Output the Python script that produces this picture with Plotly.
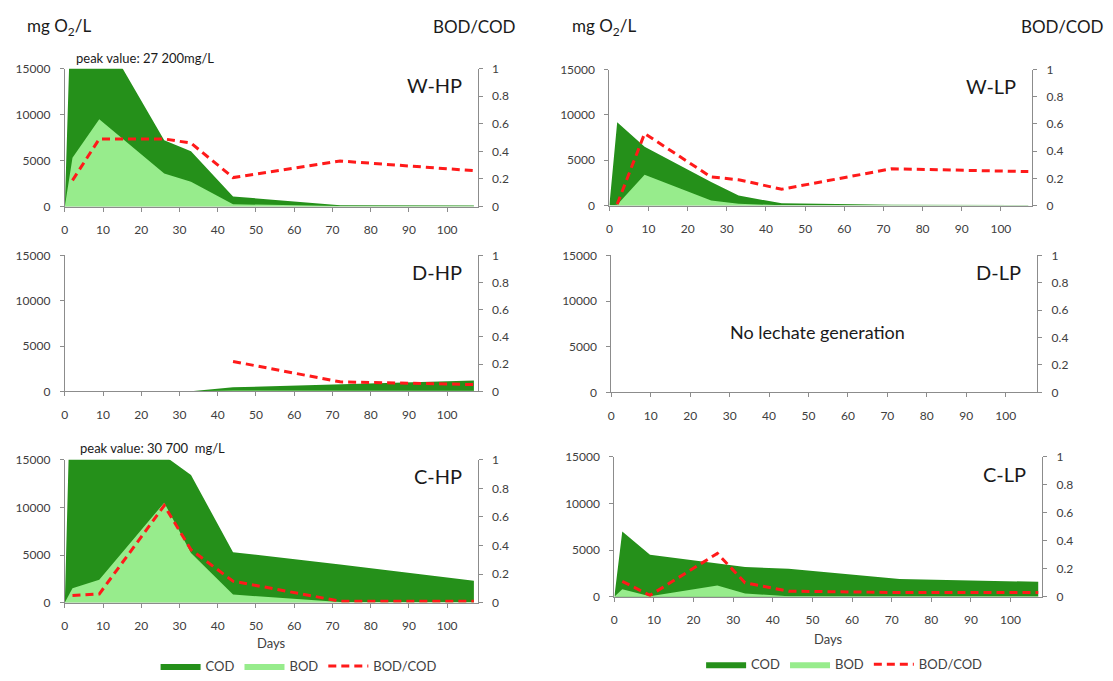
import plotly.graph_objects as go

# ---------------- data ----------------
DAYS = [0, 2, 9, 26, 33, 44, 72, 107]
RATIO_DAYS = [2, 9, 26, 33, 44, 72, 107]

W_HP_COD = [0, 27200, 19400, 7200, 6000, 1100, 150, 100]
W_HP_BOD = [0, 5300, 9500, 3600, 2700, 250, 50, 25]
W_HP_RATIO = [0.19, 0.49, 0.49, 0.46, 0.21, 0.33, 0.26]

W_LP_COD = [0, 9200, 6500, 2600, 1100, 250, 100, 50]
W_LP_BOD = [0, 100, 3400, 550, 200, 30, 25, 12]
W_LP_RATIO = [0.01, 0.53, 0.21, 0.19, 0.12, 0.27, 0.25]

D_HP_COD = [0, 0, 0, 0, 0, 450, 800, 1200]
D_HP_BOD = [0, 0, 0, 0, 0, 100, 55, 60]
D_HP_RATIO = [None, None, None, None, 0.22, 0.07, 0.05]

C_HP_COD = [0, 30700, 28000, 15440, 13400, 5300, 4000, 2300]
C_HP_BOD = [0, 1500, 2400, 10500, 5200, 850, 60, 30]
C_HP_RATIO = [0.05, 0.06, 0.68, 0.37, 0.15, 0.01, 0.01]

C_LP_COD = [0, 7000, 4500, 3600, 3200, 3000, 1900, 1600]
C_LP_BOD = [0, 800, 50, 1200, 350, 50, 50, 40]
C_LP_RATIO = [0.11, 0.01, 0.31, 0.10, 0.04, 0.03, 0.03]

PANEL_NAMES = ["W-HP", "W-LP", "D-HP", "D-LP", "C-HP", "C-LP"]
X_TICKS = [0, 10, 20, 30, 40, 50, 60, 70, 80, 90, 100]
Y_TICKS = [0, 5000, 10000, 15000]
R_TICKS = [0, 0.2, 0.4, 0.6, 0.8, 1]

# ---------------- style ----------------
COD_C = "#25901a"
BOD_C = "#97ec8c"
RATIO_C = "#ff1a1a"
AX_C = "#8c8c8c"
TXT_C = "#404040"
FONT = "Lato, 'Open Sans', sans-serif"
W, H = 1113, 681

def px_x(v):
    return v / W

def px_y(v):
    return 1 - v / H

# panel geometry in pixels: (x0, x1, ytop, ybottom)
GEOM = [
    (62, 476, 62, 203),
    (608, 1032, 63, 202),
    (62, 476, 253, 392),
    (610, 1037, 253, 393),
    (62, 476, 462, 608),
    (613, 1042, 459, 602),
]

panels = [
    (W_HP_COD, W_HP_BOD, W_HP_RATIO),
    (W_LP_COD, W_LP_BOD, W_LP_RATIO),
    (D_HP_COD, D_HP_BOD, D_HP_RATIO),
    None,
    (C_HP_COD, C_HP_BOD, C_HP_RATIO),
    (C_LP_COD, C_LP_BOD, C_LP_RATIO),
]

fig = go.Figure()
layout = dict(
    width=W, height=H, margin=dict(l=0, r=0, t=0, b=0),
    paper_bgcolor="white", plot_bgcolor="white",
    font=dict(family=FONT, color=TXT_C, size=12),
    showlegend=True,
)

annotations = []
tickfont = dict(size=12, color=TXT_C, family=FONT)


def axis_ticks(vals, eps, label_gap):
    """Invisible long major ticks push labels out; short visible minor ticks draw marks."""
    return dict(
        tickvals=vals, ticks="outside", ticklen=label_gap, tickcolor="rgba(0,0,0,0)",
        minor=dict(tickmode="array", tickvals=[v + eps for v in vals], ticks="outside",
                   ticklen=4, tickcolor=AX_C, tickwidth=1, showgrid=False),
        showline=True, linecolor=AX_C, linewidth=1, showgrid=False, zeroline=False,
        tickfont=tickfont,
    )


for i, (x0, x1, yt, yb) in enumerate(GEOM):
    n = i + 1
    xa = "x" if n == 1 else f"x{n}"
    ya_l = 2 * n - 1
    ya_r = 2 * n
    yl = "y" if ya_l == 1 else f"y{ya_l}"
    yr = f"y{ya_r}"
    xkey = "xaxis" if n == 1 else f"xaxis{n}"
    ylkey = "yaxis" if ya_l == 1 else f"yaxis{ya_l}"
    yrkey = f"yaxis{ya_r}"

    layout[xkey] = dict(domain=[px_x(x0), px_x(x1)], anchor=yl, range=[0, 108],
                        **axis_ticks(X_TICKS, 0.0005, 12))
    layout[ylkey] = dict(domain=[px_y(yb), px_y(yt)], anchor=xa, range=[0, 15000],
                         tickformat="d", **axis_ticks(Y_TICKS, 0.01, 11))
    layout[yrkey] = dict(overlaying=yl, side="right", anchor=xa, range=[0, 1],
                         **axis_ticks(R_TICKS, 0.000001, 11))

    leg = "legend" if n == 5 else ("legend2" if n == 6 else None)
    data = panels[i]
    if data is not None:
        cod, bod, ratio = data
        kw = dict(legend=leg) if leg else {}
        fig.add_trace(go.Scatter(
            x=DAYS, y=cod, xaxis=xa, yaxis=yl, mode="lines", name="COD",
            fill="tozeroy", fillcolor=COD_C, line=dict(width=0, color=COD_C),
            showlegend=leg is not None, hoverinfo="skip", **kw))
        fig.add_trace(go.Scatter(
            x=DAYS, y=bod, xaxis=xa, yaxis=yl, mode="lines", name="BOD",
            fill="tozeroy", fillcolor=BOD_C, line=dict(width=0, color=BOD_C),
            showlegend=leg is not None, hoverinfo="skip", **kw))
        fig.add_trace(go.Scatter(
            x=RATIO_DAYS, y=ratio, xaxis=xa, yaxis=yr, mode="lines", name="BOD/COD",
            line=dict(width=3, color=RATIO_C, dash="8px,5px"),
            showlegend=leg is not None, hoverinfo="skip", **kw))
    else:
        fig.add_trace(go.Scatter(x=[None], y=[None], xaxis=xa, yaxis=yl,
                                 mode="lines", showlegend=False, hoverinfo="skip"))
        fig.add_trace(go.Scatter(x=[None], y=[None], xaxis=xa, yaxis=yr,
                                 mode="lines", showlegend=False, hoverinfo="skip"))

    # panel label
    annotations.append(dict(
        text=PANEL_NAMES[i], xref="paper", yref="paper",
        x=px_x(x1 - 14), y=px_y(yt + 17), xanchor="right", yanchor="middle",
        showarrow=False, font=dict(size=20, color="#1a1a1a", family=FONT)))

# "Days" axis titles
for xc, yc in ((269, 649), (828, 645)):
    annotations.append(dict(
        text="Days", xref="paper", yref="paper",
        x=px_x(xc), y=px_y(yc), xanchor="center", yanchor="middle",
        showarrow=False, font=dict(size=13, color=TXT_C, family=FONT)))

# column headings
for xl, xr in ((22, 516), (569, 1106)):
    annotations.append(dict(
        text="mg O<sub>2</sub>/L", xref="paper", yref="paper",
        x=px_x(xl), y=px_y(19), xanchor="left", yanchor="middle",
        showarrow=False, font=dict(size=17, color="#1a1a1a", family=FONT)))
    annotations.append(dict(
        text="BOD/COD", xref="paper", yref="paper",
        x=px_x(xr), y=px_y(19), xanchor="right", yanchor="middle",
        showarrow=False, font=dict(size=17, color="#1a1a1a", family=FONT)))

annotations.append(dict(
    text="peak value: 27 200mg/L", xref="paper", yref="paper",
    x=px_x(71), y=px_y(51), xanchor="left", yanchor="middle",
    showarrow=False, font=dict(size=13, color="#1a1a1a", family=FONT)))
annotations.append(dict(
    text="peak value: 30 700  mg/L", xref="paper", yref="paper",
    x=px_x(75), y=px_y(450), xanchor="left", yanchor="middle",
    showarrow=False, font=dict(size=13, color="#1a1a1a", family=FONT)))
annotations.append(dict(
    text="No lechate generation", xref="paper", yref="paper",
    x=px_x(817), y=px_y(331), xanchor="center", yanchor="middle",
    showarrow=False, font=dict(size=18, color="#1a1a1a", family=FONT)))

layout["annotations"] = annotations
layout["legend"] = dict(
    orientation="h", x=px_x(153), y=px_y(673), xanchor="left", yanchor="middle",
    font=dict(size=13, color=TXT_C, family=FONT), itemwidth=40, bgcolor="rgba(0,0,0,0)")
layout["legend2"] = dict(
    orientation="h", x=px_x(700), y=px_y(671), xanchor="left", yanchor="middle",
    font=dict(size=13, color=TXT_C, family=FONT), itemwidth=40, bgcolor="rgba(0,0,0,0)")

fig.update_layout(**layout)
fig.write_html("out.html")
